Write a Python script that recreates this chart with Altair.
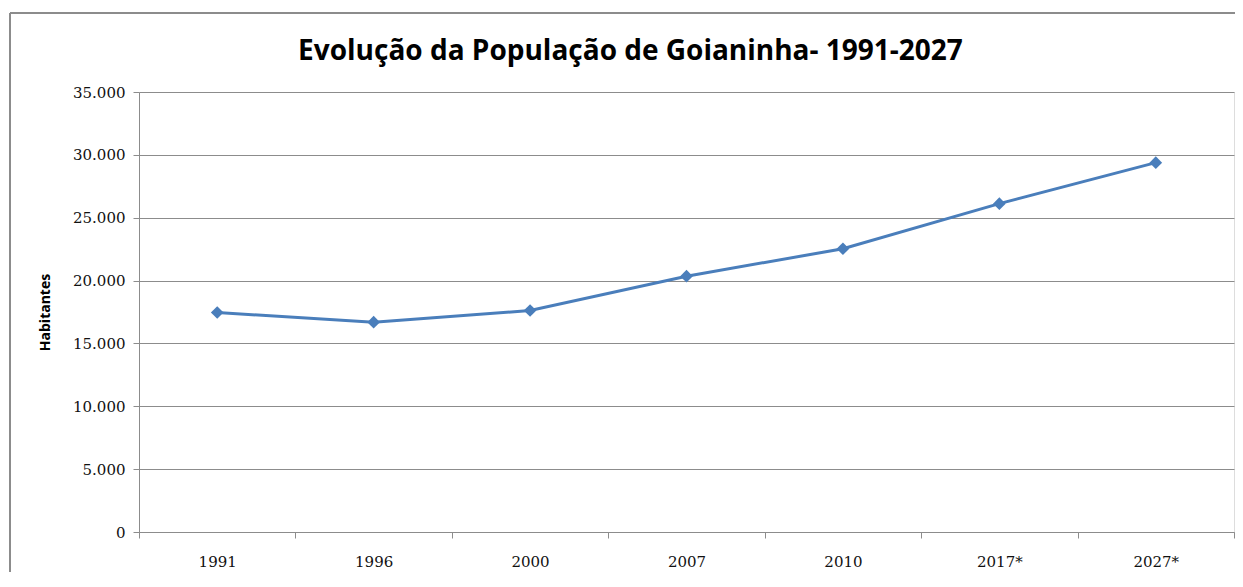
import altair as alt
import pandas as pd

anos = ["1991", "1996", "2000", "2007", "2010", "2017*", "2027*"]
habitantes = [17460, 16690, 17620, 20350, 22530, 26120, 29380]
y_ticks = [0, 5000, 10000, 15000, 20000, 25000, 30000, 35000]

df = pd.DataFrame({"ano": anos, "hab": habitantes})

base = alt.Chart(df).encode(
    x=alt.X("ano:N", sort=anos, title=None,
            scale=alt.Scale(paddingInner=0, paddingOuter=0),
            axis=alt.Axis(tickBand="extent", labelAngle=0, labelFont="DejaVu Serif",
                          labelFontSize=15, labelColor="#111111", labelPadding=16,
                          tickSize=6, tickColor="#8c8c8c", domainColor="#8c8c8c",
                          grid=False)),
    y=alt.Y("hab:Q", title="Habitantes",
            scale=alt.Scale(domain=[0, 35000], nice=False),
            axis=alt.Axis(values=y_ticks, labelExpr="replace(format(datum.value, ',d'), ',', '.')",
                          labelFont="DejaVu Serif", labelFontSize=15, labelColor="#111111",
                          labelPadding=8, tickSize=6, tickColor="#8c8c8c",
                          domainColor="#8c8c8c", gridColor="#8c8c8c", gridOpacity=1,
                          titleFont="Open Sans", titleFontSize=14, titleFontWeight="bold",
                          titleColor="#000000", titlePadding=20)),
)

line = base.mark_line(color="#4a7ebb", strokeWidth=3)
pts = base.mark_point(shape="diamond", filled=True, color="#4a7ebb", size=160, opacity=1)

# outer chart frame (decoration)
frame_v = alt.Chart(df).mark_rule(color="#8c8c8c", strokeWidth=1.5).encode(
    x=alt.value(-129), y=alt.value(-79), y2=alt.value(520))
frame_h = alt.Chart(df).mark_rule(color="#8c8c8c", strokeWidth=1.5).encode(
    x=alt.value(-129), x2=alt.value(1120), y=alt.value(-79))

chart = (frame_v + frame_h + line + pts).properties(
    width=1095, height=440,
    title=alt.TitleParams("Evolução da População de Goianinha- 1991-2027",
                          font="Open Sans", fontSize=28, fontWeight="bold",
                          color="#000000", anchor="middle", dx=-56, dy=78, offset=24),
    padding={"left": 131, "top": 84, "right": 1, "bottom": 40},
    autosize=alt.AutoSizeParams(type="none"),
).configure_view(stroke=None).configure(background="white")

chart.save("out.html", embed_options={"renderer": "svg", "actions": False})
